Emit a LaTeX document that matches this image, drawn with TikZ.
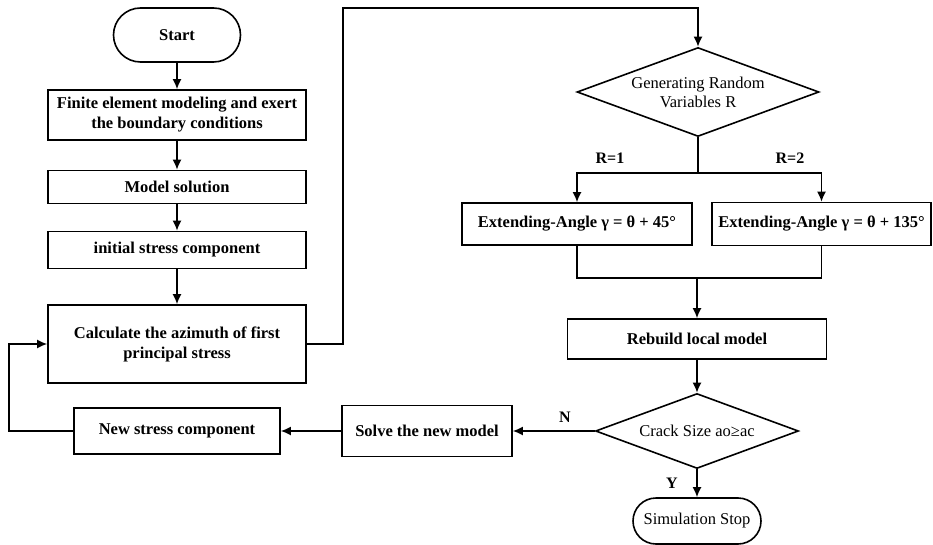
\documentclass[tikz,border=0pt]{standalone}
\usepackage{fontspec}
\setmainfont{Liberation Serif}
\usepackage{tikz}
\usetikzlibrary{shapes,arrows,arrows.meta,positioning}
\usetikzlibrary{shapes.geometric,shapes.misc}

\begin{document}
\begin{tikzpicture}[x=1pt,y=-1pt,line width=1.6pt,>={Latex[length=10pt,width=9pt]},
  box/.style={shape=rectangle,draw=black,line width=1.6pt,inner sep=1pt,align=center,font=\fontsize{16.5}{20}\selectfont\bfseries},
  term/.style={shape=rounded rectangle,draw=black,line width=1.6pt,inner sep=1pt,font=\fontsize{16.5}{20}\selectfont\bfseries},
  decide/.style={shape=diamond,draw=black,line width=1.6pt,inner sep=0pt,align=center,font=\fontsize{16.5}{19}\selectfont},
  lbl/.style={font=\fontsize{16}{18}\selectfont\bfseries}]
\useasboundingbox (0,0) rectangle (933,545);

%draw left column
\node [term, minimum width=129pt, minimum height=54pt] at (177,35) (start) {Start};
\node [box, minimum width=258pt, minimum height=50pt] at (177,115) (fem) {Finite element modeling and exert\\the boundary conditions};
\node [box, minimum width=258pt, minimum height=33pt] at (177,187) (sol) {Model solution};
\node [box, minimum width=258pt, minimum height=37pt] at (177,250) (init) {initial stress component};
\node [box, minimum width=258pt, minimum height=78pt] at (177,344) (calc) {Calculate the azimuth of first\\principal stress};
\node [box, minimum width=206pt, minimum height=46pt] at (177,431) (newst) {New stress component};
\node [box, minimum width=170pt, minimum height=51pt] at (427,431) (solve) {Solve the new model};

%draw right column
\node [decide, minimum width=242pt, minimum height=89pt, aspect=2.72] at (698,92) (rand) {Generating Random\\Variables R};
\node [box, minimum width=230pt, minimum height=42pt] at (577,224) (ext1) {Extending-Angle γ = θ + 45°};
\node [box, minimum width=219pt, minimum height=43pt] at (821.5,224) (ext2) {Extending-Angle γ = θ + 135°};
\node [box, minimum width=259pt, minimum height=40pt] at (697,339) (rebuild) {Rebuild local model};
\node [decide, minimum width=203pt, minimum height=75pt, aspect=2.7] at (697,431) (crack) {Crack Size ao≥ac};
\node [term, font=\fontsize{16.5}{19}\selectfont, minimum width=130pt, minimum height=46pt] at (697,521) (stop) {Simulation Stop};

%labels on branches
\node [lbl] at (610,158) (r1) {R=1};
\node [lbl] at (790,158) (r2) {R=2};
\node [lbl] at (565,417) (no) {N};
\node [lbl] at (672,483) (yes) {Y};

%corner points
\coordinate (up) at (343,8);
\coordinate (split) at (698,173);
\coordinate (merge) at (697,278);
\coordinate (back) at (9,431);

%straight arrows
\draw [->] (start) -- (fem);
\draw [->] (fem) -- (sol);
\draw [->] (sol) -- (init);
\draw [->] (init) -- (calc);
\draw [->] (merge) -- (rebuild);
\draw [->] (rebuild) -- (crack);
\draw [->] (crack) -- (solve);
\draw [->] (solve) -- (newst);
\draw [->] (crack) -- (stop);

%right angle edges
\draw [->] (calc.east) -| (up) -| (rand.north);
\draw (rand.south) -- (split);
\draw [->] (split) -| (ext1.north);
\draw [->] (split) -| (ext2.north);
\draw (ext1.south) |- (merge) -| (ext2.south);
\draw [->] (newst.west) -- (back) |- (calc.west);

\end{tikzpicture}
\end{document}
